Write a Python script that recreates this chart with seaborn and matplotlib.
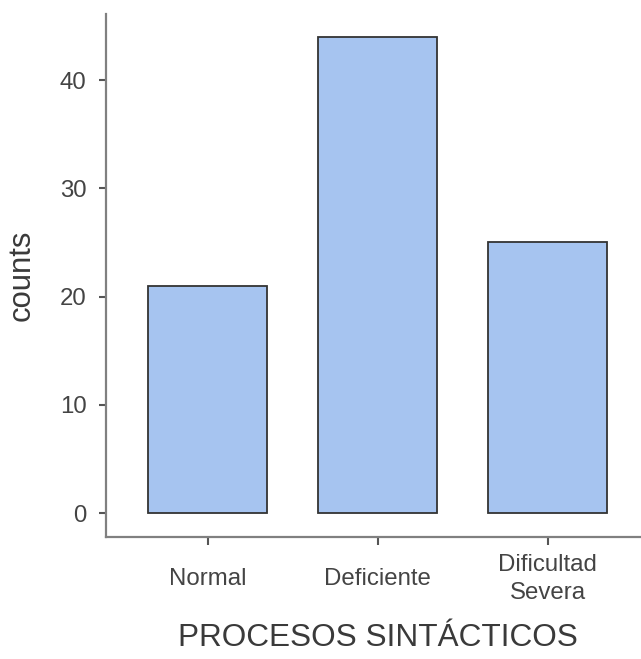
import matplotlib
matplotlib.use("Agg")
import matplotlib.pyplot as plt
import seaborn as sns
import pandas as pd

# data
categories = ["Normal", "Deficiente", "Dificultad\nSevera"]
counts = [21, 44, 25]
y_ticks = [0, 10, 20, 30, 40]

df = pd.DataFrame({"nivel": categories, "counts": counts})

sns.set_style("white")
plt.rcParams["font.family"] = ["Liberation Sans", "DejaVu Sans"]

fig = plt.figure(figsize=(6.41, 6.59), dpi=100)
# axes box in figure fractions (right edge runs slightly past the figure)
ax = fig.add_axes([106 / 641, 122 / 659, 543.5 / 641, 523 / 659])

sns.barplot(data=df, x="nivel", y="counts", ax=ax, width=0.7,
            color="#A6C4F0", saturation=1, edgecolor="#333333", linewidth=1.3)

ax.set_xlim(-0.6, 2.6)
ax.set_ylim(-2.2, 46.1)
ax.set_yticks(y_ticks)

for side in ["top", "right"]:
    ax.spines[side].set_visible(False)
for side in ["left", "bottom"]:
    ax.spines[side].set_color("#808080")
    ax.spines[side].set_linewidth(1.6)

ax.tick_params(axis="y", length=5, width=1.5, color="#555555",
               pad=9, labelsize=17.3, labelcolor="#444444", left=True)
ax.tick_params(axis="x", length=5.5, width=1.5, color="#555555",
               pad=25, labelsize=17.3, labelcolor="#444444", bottom=True)
for lab in ax.get_xticklabels():
    lab.set_verticalalignment("center")
    lab.set_linespacing(1.35)

ax.set_xlabel("PROCESOS SINTÁCTICOS", fontsize=22.7, color="#3a3a3a")
ax.set_ylabel("counts", fontsize=22.3, color="#3a3a3a")
ax.xaxis.set_label_coords(0.5, -0.164)
ax.yaxis.set_label_coords(-0.128, 0.5)

fig.savefig("out.png", dpi=100)
